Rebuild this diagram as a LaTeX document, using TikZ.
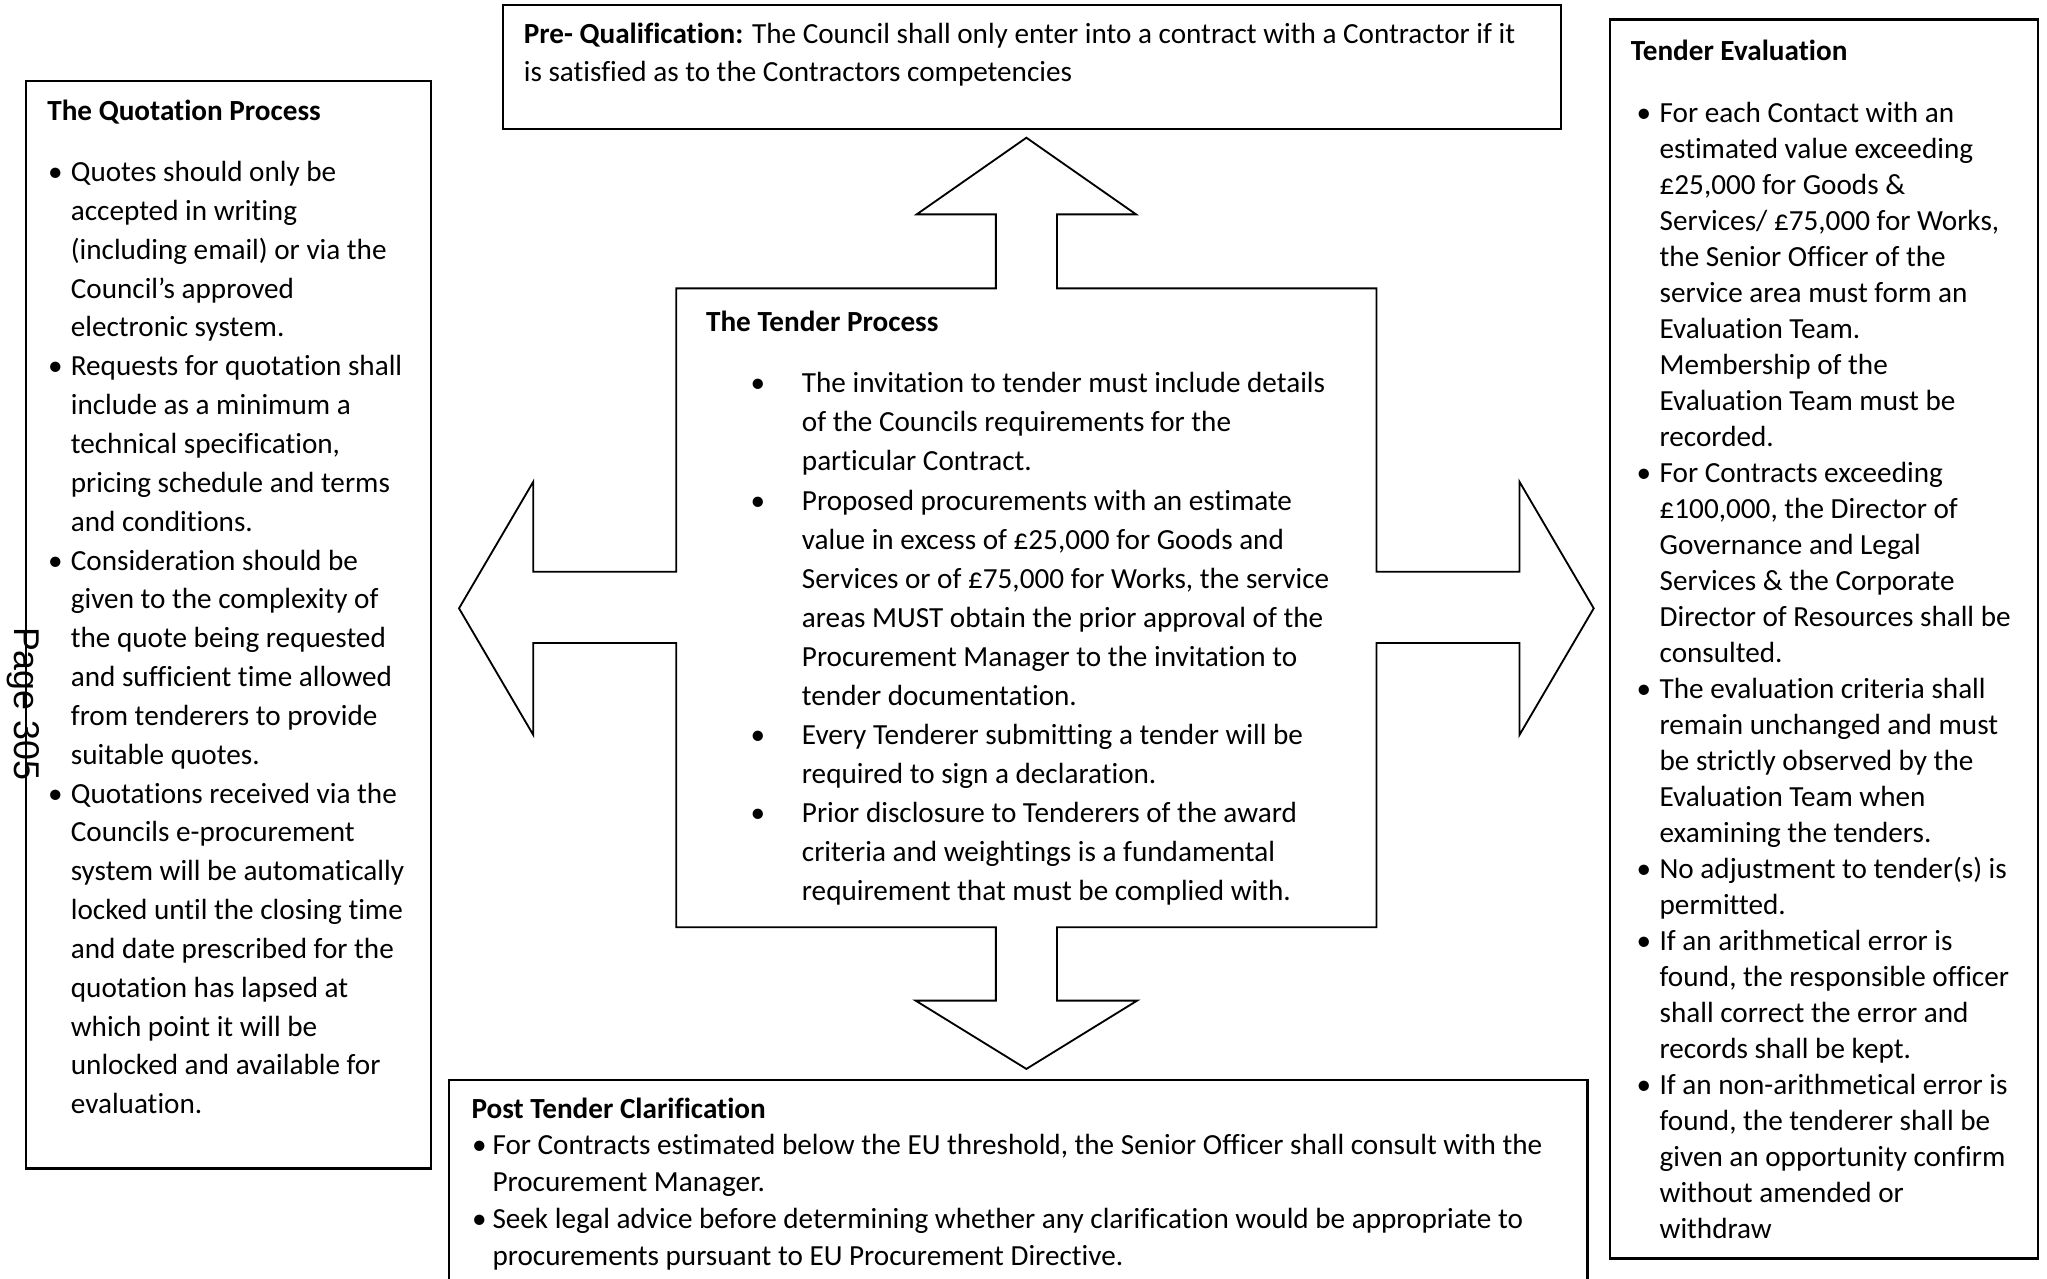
\documentclass[tikz,border=0pt]{standalone}
\usepackage{fontspec}
\setmainfont{Carlito}[Ligatures={NoCommon,NoRare,NoContextual}]
\newfontfamily\pagefont{Liberation Sans}
\usepackage{tikz}
\usetikzlibrary{fit}
\newcommand{\bull}[1]{\llap{\textbullet\hspace{#1}}}

\begin{document}
\begin{tikzpicture}[
    x=0.25mm, y=-0.25mm,
    box/.style={draw, line width=1.2pt, inner sep=0pt},
    cross/.style={draw, line width=1pt, line join=miter},
    title/.style={anchor=base west, inner sep=0pt, font=\bfseries\fontsize{15.9}{20}\selectfont},
    body/.style={anchor=base west, inner sep=0pt, align=left, font=\fontsize{15.9}{#1}\selectfont}
]
\useasboundingbox (0,0) rectangle (1568,979);
\clip (0,0) rectangle (1568,979);

\node[box, fit={(385,4) (1196,99)}] (preq) {};
\node[box, fit={(20,62) (330,895)}] (quote) {};
\node[box, fit={(1233,15) (1561,964)}] (eval) {};
\node[box, fit={(344,827) (1216,1010)}] (post) {};

\draw[cross] (518,220.9) -- (762.8,220.9) -- (762.8,164.2) -- (702.2,164.2) -- (786.2,105.5)
    -- (870.2,164.2) -- (809.6,164.2) -- (809.6,220.9) -- (1054.4,220.9) -- (1054.4,437.9)
    -- (1163.9,437.9) -- (1163.9,369) -- (1220.8,466) -- (1163.9,563) -- (1163.9,492.5)
    -- (1054.4,492.5) -- (1054.4,710.3) -- (809.6,710.3) -- (809.6,766.5) -- (871,766.5)
    -- (786.2,818.8) -- (701.4,766.5) -- (762.8,766.5) -- (762.8,710.3) -- (518,710.3)
    -- (518,492.5) -- (408.5,492.5) -- (408.5,563) -- (351.6,466) -- (408.5,369)
    -- (408.5,437.9) -- (518,437.9) -- cycle;

% base of a text node = baseline of its last line
\node[body=20.9] (preqtext) at (401,62.6) {\textbf{Pre- Qualification:} The Council shall only enter into a contract with a Contractor if it\\
is satisfied as to the Contractors competencies};

\node[title] (quotetitle) at (36,92.5) {The Quotation Process};
\node[body=21.16] (quotetext) at (54,853.1) {\bull{4.5pt}Quotes should only be\\
accepted in writing\\
(including email) or via the\\
Council’s approved\\
electronic system.\\
\bull{4.5pt}Requests for quotation shall\\
include as a minimum a\\
technical specification,\\
pricing schedule and terms\\
and conditions.\\
\bull{4.5pt}Consideration should be\\
given to the complexity of\\
the quote being requested\\
and sufficient time allowed\\
from tenderers to provide\\
suitable quotes.\\
\bull{4.5pt}Quotations received via the\\
Councils e-procurement\\
system will be automatically\\
locked until the closing time\\
and date prescribed for the\\
quotation has lapsed at\\
which point it will be\\
unlocked and available for\\
evaluation.};

\node[title] (tendertitle) at (540.6,253.8) {The Tender Process};
\node[body=21.29] (tendertext) at (614,690) {\bull{20pt}The invitation to tender must include details\\
of the Councils requirements for the\\
particular Contract.\\
\bull{20pt}Proposed procurements with an estimate\\
value in excess of £25,000 for Goods and\\
Services or of £75,000 for Works, the service\\
areas MUST obtain the prior approval of the\\
Procurement Manager to the invitation to\\
tender documentation.\\
\bull{20pt}Every Tenderer submitting a tender will be\\
required to sign a declaration.\\
\bull{20pt}Prior disclosure to Tenderers of the award\\
criteria and weightings is a fundamental\\
requirement that must be complied with.};

\node[title] (evaltitle) at (1249,46) {Tender Evaluation};
\node[body=19.63] (evaltext) at (1271,949) {\bull{4.6pt}For each Contact with an\\
estimated value exceeding\\
£25,000 for Goods \&\\
Services/ £75,000 for Works,\\
the Senior Officer of the\\
service area must form an\\
Evaluation Team.\\
Membership of the\\
Evaluation Team must be\\
recorded.\\
\bull{4.6pt}For Contracts exceeding\\
£100,000, the Director of\\
Governance and Legal\\
Services \& the Corporate\\
Director of Resources shall be\\
consulted.\\
\bull{4.6pt}The evaluation criteria shall\\
remain unchanged and must\\
be strictly observed by the\\
Evaluation Team when\\
examining the tenders.\\
\bull{4.6pt}No adjustment to tender(s) is\\
permitted.\\
\bull{4.6pt}If an arithmetical error is\\
found, the responsible officer\\
shall correct the error and\\
records shall be kept.\\
\bull{4.6pt}If an non-arithmetical error is\\
found, the tenderer shall be\\
given an opportunity confirm\\
without amended or\\
withdraw};

\node[title] (posttitle) at (361,857) {Post Tender Clarification};
\node[body=20.13] (posttext) at (377,969.5) {\bull{3.2pt}For Contracts estimated below the EU threshold, the Senior Officer shall consult with the\\
Procurement Manager.\\
\bull{3.2pt}Seek legal advice before determining whether any clarification would be appropriate to\\
procurements pursuant to EU Procurement Directive.};

\node[rotate=-90, inner sep=0pt, font=\pagefont\fontsize{19.5}{22}\selectfont] (pagenum) at (18,539) {Page 305};
\end{tikzpicture}
\end{document}
